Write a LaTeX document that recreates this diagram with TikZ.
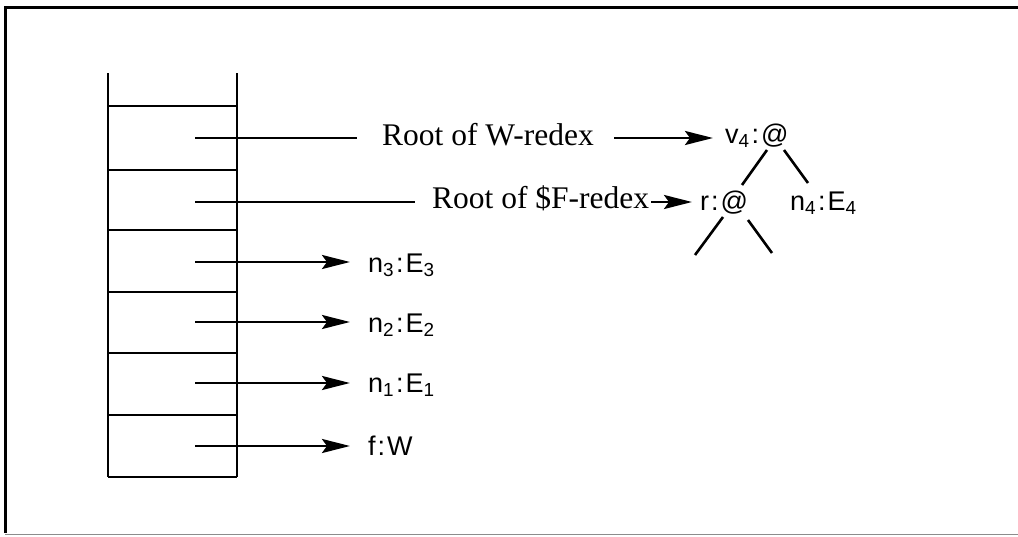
\documentclass[tikz,border=0pt]{standalone}
\usepackage{fontspec}
\setmainfont{Liberation Serif}
\setsansfont{Liberation Sans}
\usetikzlibrary{arrows.meta}

\newcommand{\cl}{\kern2pt:\kern2pt}
\tikzset{
  lbl/.style = {anchor=base west, inner sep=0pt, font=\sffamily\fontsize{27}{30}\selectfont},
  rootlbl/.style = {anchor=base west, inner sep=0pt, font=\fontsize{31.5}{35}\selectfont},
  ptr/.style = {line width=2.6pt, -{Stealth[length=28pt,width=14pt,inset=5pt]}},
  edge/.style = {line width=2.6pt}
}

\begin{document}
\begin{tikzpicture}[x=1pt, y=-1pt]
\useasboundingbox (0,0) rectangle (1018,536);
% frame, open on the right
\draw [line width=3pt] (1018,7) -- (5,7) -- (5,533);
\draw [line width=1pt, black!45] (5,534) -- (1018,534);

% stack
\draw [line width=2.6pt] (108,73) -- (108,477);
\draw [line width=2.6pt] (237,73) -- (237,477);
\foreach \y in {106,170,230,292,353,415,477}
  \draw [line width=2.6pt] (108,\y) -- (237,\y);

% start points of the pointers
\coordinate (c1) at (195,138);
\coordinate (c2) at (195,202);
\coordinate (c3) at (195,262);
\coordinate (c4) at (195,322);
\coordinate (c5) at (195,383);
\coordinate (c6) at (195,446);

% labels
\node [rootlbl] (rw) at (382,145) {Root of W-redex};
\node [rootlbl] (rf) at (432,208) {Root of \$F-redex};
\node [lbl] (v4) at (725,143) {v\textsubscript{4}\cl@};
\node [lbl] (r) at (700,210) {r\cl@};
\node [lbl] (n4) at (790,210) {n\textsubscript{4}\cl E\textsubscript{4}};
\node [lbl] (n3) at (368,272) {n\textsubscript{3}\cl E\textsubscript{3}};
\node [lbl] (n2) at (368,332) {n\textsubscript{2}\cl E\textsubscript{2}};
\node [lbl] (n1) at (368,392) {n\textsubscript{1}\cl E\textsubscript{1}};
\node [lbl] (f) at (368,455) {f\cl W};

% pointers
\draw [edge] (c1) -- ([xshift=-25pt]rw.west |- c1);
\draw [ptr] ([xshift=20pt]rw.east |- c1) -- ([xshift=-12pt]v4.west |- c1);
\draw [edge] (c2) -- ([xshift=-17pt]rf.west |- c2);
\draw [ptr] ([xshift=2pt]rf.east |- c2) -- ([xshift=-8pt]r.west |- c2);
\draw [ptr] (c3) -- ([xshift=-18pt]n3.west |- c3);
\draw [ptr] (c4) -- ([xshift=-18pt]n2.west |- c4);
\draw [ptr] (c5) -- ([xshift=-18pt]n1.west |- c5);
\draw [ptr] (c6) -- ([xshift=-18pt]f.west |- c6);

% tree
\coordinate (v4l) at (767,150);
\coordinate (v4r) at (784,150);
\coordinate (rtop) at (742,185);
\coordinate (n4top) at (808,183);
\coordinate (rl) at (723,217);
\coordinate (rr) at (748,220);
\coordinate (ll) at (695,255);
\coordinate (lr) at (772,253);
\draw [edge] (v4l) -- (rtop);
\draw [edge] (v4r) -- (n4top);
\draw [edge] (rl) -- (ll);
\draw [edge] (rr) -- (lr);
\end{tikzpicture}
\end{document}
